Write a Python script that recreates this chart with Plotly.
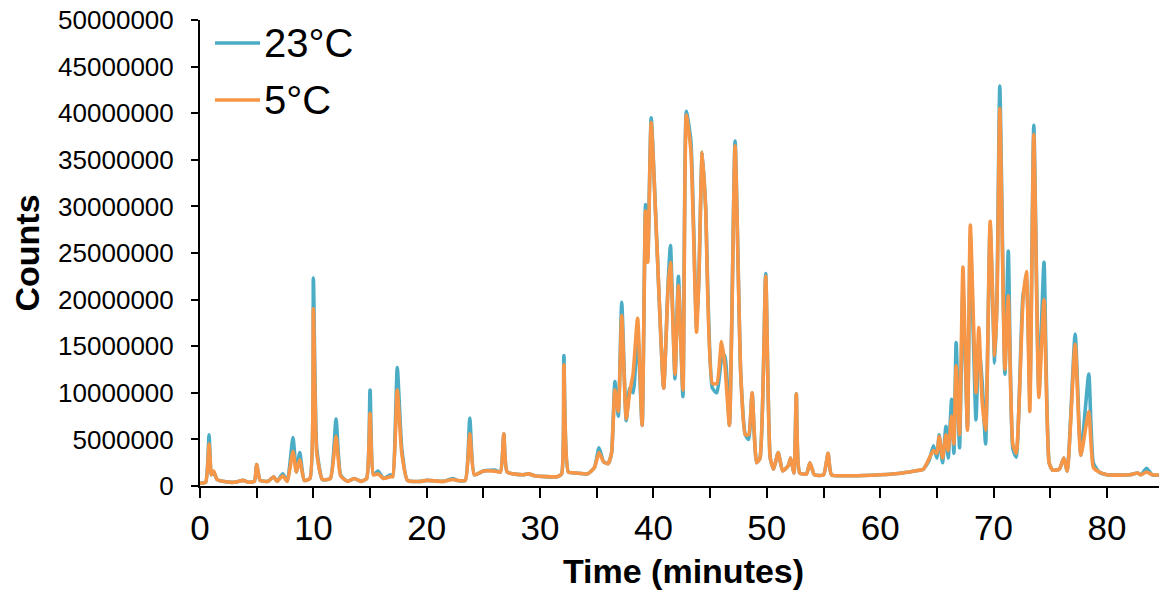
import plotly.graph_objects as go

# Retention time (minutes)
time_min = [
    0.0, 0.5, 0.8, 1.0, 1.2, 1.5, 2.0, 3.0, 3.8, 4.3, 4.8, 5.0, 5.3, 6.0, 6.5, 6.8, 7.3, 7.7,
    8.2, 8.5, 8.8, 9.2, 9.7, 10.0, 10.3, 10.8, 11.5, 12.0, 12.4, 13.0, 13.6, 14.2, 14.7, 15.0,
    15.3, 15.7, 16.2, 16.8, 17.0, 17.4, 17.8, 18.3, 19.5, 20.0, 21.5, 22.3, 22.7, 23.4, 23.8,
    24.2, 25.0, 26.0, 26.5, 26.8, 27.1, 28.5, 29.0, 29.5, 31.5, 31.9, 32.1, 32.5, 33.2, 34.2,
    34.8, 35.2, 35.6, 36.0, 36.3, 36.6, 36.9, 37.2, 37.6, 37.9, 38.2, 38.6, 39.0, 39.3, 39.5,
    39.8, 40.3, 40.9, 41.3, 41.5, 41.9, 42.2, 42.6, 42.9, 43.3, 43.8, 44.0, 44.3, 44.6, 45.2,
    45.6, 46.0, 46.3, 46.7, 47.2, 47.7, 48.1, 48.4, 48.7, 49.1, 49.4, 49.9, 50.3, 50.6, 51.0,
    51.4, 51.9, 52.1, 52.4, 52.6, 52.9, 53.5, 53.8, 54.2, 55.0, 55.4, 55.7, 57.0, 60.0, 62.0,
    63.0, 63.8, 64.3, 64.7, 65.0, 65.2, 65.5, 65.8, 66.0, 66.3, 66.5, 66.7, 67.0, 67.3, 67.7,
    67.95, 68.45, 68.7, 69.0, 69.3, 69.7, 70.1, 70.3, 70.55, 71.0, 71.3, 71.7, 72.0, 72.6,
    72.9, 73.2, 73.55, 74.0, 74.45, 74.9, 75.2, 75.8, 76.2, 76.5, 77.2, 77.7, 78.4, 78.8,
    79.3, 80.0, 82.0, 82.7, 83.0, 83.5, 84.0, 85.5,
]

# Counts (millions) for 23 °C
counts_23c_m = [
    0.3, 0.4, 5.5, 1.2, 1.5, 0.7, 0.5, 0.4, 0.6, 0.4, 0.5, 2.3, 0.6, 0.5, 1.0, 0.5, 1.3, 0.5,
    5.2, 1.5, 3.6, 0.6, 0.8, 22.3, 4.0, 0.7, 0.8, 7.2, 1.2, 0.5, 0.8, 0.5, 0.8, 10.3,
    1.2, 1.6, 0.8, 1.2, 1.0, 12.7, 4.0, 0.6, 0.5, 0.6, 0.5, 0.8, 0.6, 0.6, 7.3,
    1.2, 1.6, 1.7, 1.5, 5.6, 1.5, 1.2, 1.3, 1.1, 1.0, 1.3, 14.0, 1.5, 1.4, 1.3,
    2.0, 4.1, 2.6, 2.4, 3.5, 11.2, 7.5, 19.7, 7.0, 10.5, 10.0, 16.5, 6.5, 30.2, 24.5,
    39.5, 26.0, 10.5, 22.0, 25.8, 11.5, 22.5, 9.6, 40.2, 37.0, 17.0, 22.0, 35.8, 30.0, 10.5,
    10.0, 13.5, 14.0, 6.5, 37.0, 12.0, 5.5, 5.0, 10.0, 2.5, 3.0, 22.8, 3.0, 1.8, 3.6,
    1.6, 2.2, 3.0, 1.4, 9.9, 1.4, 1.3, 2.5, 1.2, 1.2, 3.5, 1.2, 1.1, 1.2, 1.4,
    1.6, 1.8, 2.7, 4.3, 3.0, 5.5, 2.5, 6.4, 3.0, 9.3, 3.5, 15.4, 4.1, 21.0, 6.3,
    26.8, 7.1, 15.5, 11.0, 4.5, 28.0, 13.2, 20.0, 42.9, 12.0, 25.2, 4.0, 3.1, 20.5,
    22.0, 9.6, 38.7, 10.0, 24.0, 2.5, 1.7, 1.8, 3.0, 1.6, 16.3, 3.3, 12.0, 2.5,
    1.5, 1.2, 1.2, 1.4, 1.2, 1.9, 1.2, 1.2,
]

# Counts (millions) for 5 °C
counts_5c_m = [
    0.3, 0.4, 4.5, 1.2, 1.6, 0.7, 0.5, 0.4, 0.6, 0.4, 0.5, 2.3, 0.6, 0.5, 1.0, 0.5, 1.1, 0.5,
    3.7, 1.5, 2.8, 0.6, 0.8, 19.0, 3.5, 0.7, 0.8, 5.3, 1.1, 0.5, 0.8, 0.5, 0.8, 7.8,
    1.2, 1.3, 0.8, 1.0, 1.0, 10.3, 3.5, 0.6, 0.5, 0.6, 0.5, 0.7, 0.6, 0.6, 5.6,
    1.2, 1.6, 1.6, 1.5, 5.6, 1.5, 1.2, 1.3, 1.1, 1.0, 1.3, 13.0, 1.5, 1.4, 1.3,
    2.0, 3.6, 2.6, 2.4, 3.5, 10.3, 8.0, 18.3, 7.2, 10.0, 12.0, 18.0, 6.5, 29.5, 24.0,
    39.0, 26.0, 10.5, 21.5, 24.0, 12.0, 21.5, 10.3, 39.8, 36.0, 16.5, 22.0, 35.8, 30.0, 11.0,
    11.0, 15.5, 13.0, 6.5, 36.5, 12.0, 5.5, 5.5, 10.0, 2.5, 3.0, 22.5, 3.0, 1.8, 3.6,
    1.6, 2.2, 3.0, 1.4, 9.9, 1.4, 1.3, 2.5, 1.2, 1.2, 3.5, 1.2, 1.1, 1.2, 1.4,
    1.6, 1.8, 2.9, 3.8, 3.5, 5.3, 3.0, 5.5, 3.8, 7.5, 4.5, 12.9, 5.5, 23.5, 6.0,
    28.0, 10.0, 17.0, 9.0, 6.0, 28.4, 14.0, 19.5, 40.5, 12.5, 20.4, 4.5, 3.5, 20.0,
    23.0, 8.0, 37.7, 9.5, 20.0, 2.5, 1.7, 1.8, 3.0, 1.6, 15.2, 3.3, 8.0, 2.0,
    1.5, 1.2, 1.2, 1.4, 1.2, 1.5, 1.2, 1.2,
]

series_names = ["23°C", "5°C"]
series_colors = ["#4BACC6", "#F79646"]
y_ticks = [i * 5000000 for i in range(11)]

# page has an 8px body margin, so the figure is sized/offset to compensate
OFF = 8
W, H = 1167 - OFF, 590 - OFF
L, R, T, B = 200 - OFF, 0, 20 - OFF, 104 - OFF + 8
pw, ph = W - L - R, H - T - B

fig = go.Figure()
for name, color, vals in zip(series_names, series_colors, [counts_23c_m, counts_5c_m]):
    fig.add_trace(go.Scatter(
        x=time_min, y=[v * 1e6 for v in vals], mode="lines", name=name,
        line=dict(color=color, width=3.6, shape="spline", smoothing=0.5),
        showlegend=False,
    ))

# custom legend (paper coordinates) to match the long legend line samples
def px2x(px):
    return (px - OFF - L) / pw

def py2y(py):
    return 1 - (py - OFF - T) / ph

legend_rows_py = [43, 100]
for name, color, rowy in zip(series_names, series_colors, legend_rows_py):
    fig.add_shape(type="line", xref="paper", yref="paper",
                  x0=px2x(215), x1=px2x(260), y0=py2y(rowy), y1=py2y(rowy),
                  line=dict(color=color, width=3.6))
    fig.add_annotation(xref="paper", yref="paper", x=px2x(262), y=py2y(rowy),
                       xanchor="left", yanchor="middle", text=name, showarrow=False,
                       font=dict(size=40, color="black"))

fig.update_layout(
    width=W, height=H,
    margin=dict(l=L, r=R, t=T, b=B),
    paper_bgcolor="white", plot_bgcolor="white",
    font=dict(family="Liberation Sans, Arial, sans-serif", color="black"),
    showlegend=False,
)
fig.update_xaxes(
    range=[0, 85.3], dtick=10, tick0=0, automargin=False,
    showline=True, linecolor="black", linewidth=2,
    ticks="outside", ticklen=10, tickwidth=2, tickcolor="black",
    minor=dict(dtick=5, ticks="outside", ticklen=10, tickwidth=2, tickcolor="black"),
    tickfont=dict(size=35), ticklabelstandoff=0,
    showgrid=False, zeroline=False,
    title=dict(text="<b>Time (minutes)</b>", font=dict(size=34), standoff=13),
)
fig.update_yaxes(
    range=[0, 50000000], tickvals=y_ticks, tickformat="d", automargin=False,
    showline=True, linecolor="black", linewidth=2,
    ticks="outside", ticklen=7, tickwidth=2, tickcolor="black",
    tickfont=dict(size=26), ticklabelstandoff=12, ticklabeloverflow="allow",
    showgrid=False, zeroline=False,
    title=dict(text="<b>Counts</b>", font=dict(size=34), standoff=10),
)

fig.write_html("out.html")
